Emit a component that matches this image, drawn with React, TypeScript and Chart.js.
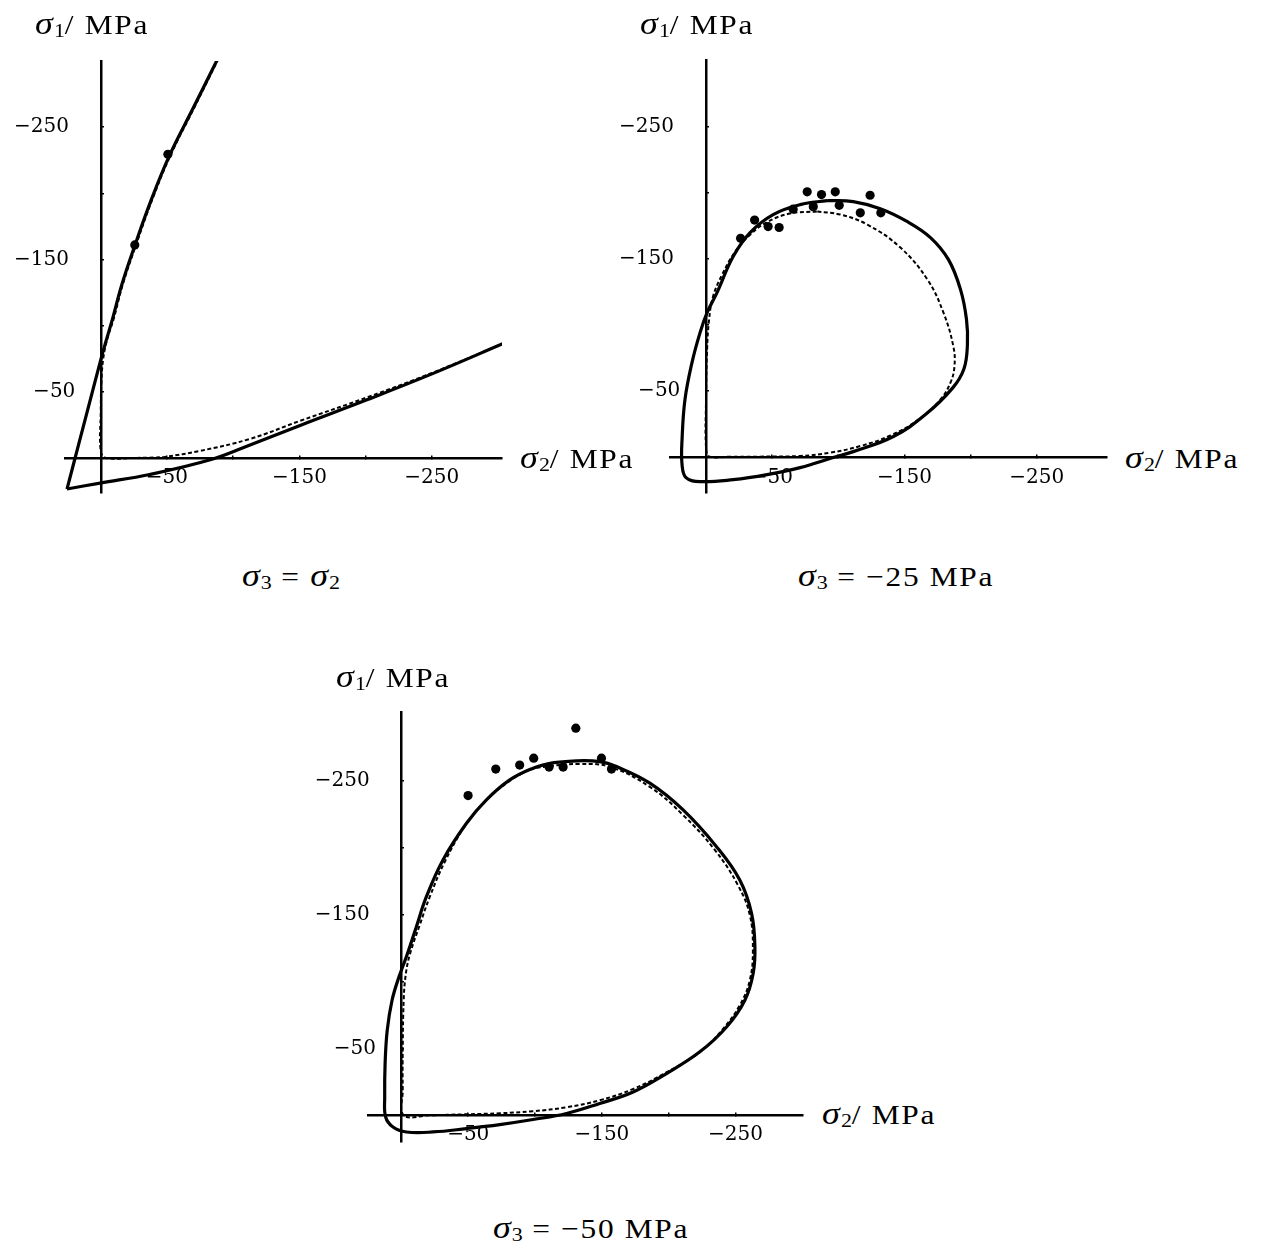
import React, { useEffect, useRef } from 'react';
import { Chart, registerables } from 'chart.js';

Chart.register(...registerables);

type Pt = [number, number];

// ---------- tick values (MPa) ----------
const TICK_VALUES = [-250, -200, -150, -100, -50];
const LABELED_TICKS = [-250, -150, -50];

// ---------- panel 1 : sigma3 = sigma2 ----------
const P1_X_RANGE: Pt = [-303, 27];
const P1_Y_RANGE: Pt = [-300, 26.5];
const P1_SOLID_UPPER: Pt[] = [
  [-88.5, -302], [-70, -264.8], [-52.2, -229.2], [-38.2, -195.2], [-25.7, -160.4],
  [-15.9, -130.9], [-9.1, -105.9], [-3.8, -87.7], [0, -74.1], [8.3, -42.4],
  [16.6, -10.6], [25.5, 23.5],
];
const P1_SOLID_LOWER: Pt[] = [
  [25.5, 23.5], [0.5, 19], [-37, 12.5], [-84.7, 0.8], [-112.7, -9.8], [-150.5, -24.6],
  [-202, -44.3], [-252, -64.3], [-304, -86.5],
];
const P1_DASHED: Pt[] = [
  [-89, -302], [-70.5, -264.5], [-52.8, -229], [-38.8, -195], [-26.3, -160], [-16.6, -131],
  [-10, -106], [-5, -90], [-2, -76], [-0.5, -58], [0, -35], [0, -5], [-4, 0],
  [-25, 0], [-40, -0.3], [-48.4, -0.8], [-74.9, -5.3], [-112.7, -14.4], [-150.5, -28],
  [-202, -46.1], [-252, -65], [-304, -86.5],
];
const P1_POINTS: Pt[] = [[-50.7, -229.5], [-25.7, -161]];

// ---------- panel 2 : sigma3 = -25 MPa ----------
const P2_X_RANGE: Pt = [-303, 27];
const P2_Y_RANGE: Pt = [-300.5, 27];
const P2_SOLID: Pt[] = [
  [-91.8, -194.2], [-111.4, -193.4], [-131.8, -188], [-152.3, -178.2], [-169.7, -166.2],
  [-183.3, -149.5], [-192.4, -126.8], [-196.9, -104.2], [-197.6, -85.3], [-195, -67],
  [-186.5, -52.5], [-165.9, -32.3], [-141.7, -15.7], [-111.4, -4.3], [-96.3, 0.2],
  [-71.3, 7.8], [-46.3, 13.1], [-20.7, 16.9], [4.3, 18.4], [14.9, 15.4], [17.9, 5.5],
  [17.9, -13.4], [15.7, -43.6], [10.4, -71.6], [4.3, -94.3], [-1, -109.4], [-8.5, -124.6],
  [-20.7, -151.9], [-33.5, -170], [-50.9, -183.6], [-71.3, -191.1], [-91.8, -194.2],
];
const P2_DASHED: Pt[] = [
  [-84.2, -185.9], [-101.6, -183.6], [-122, -176], [-147, -158.6], [-167.4, -134.4],
  [-179.5, -109.4], [-187, -83.7], [-187.8, -68.6], [-184.8, -56.5], [-177.2, -43.7],
  [-160.6, -28.5], [-139.5, -16.5], [-116.7, -8.5], [-94, -3.5], [-71.3, -1],
  [-41, -0.5], [-18.4, -0.5], [-3, -0.5], [-0.3, -5.8], [-0.2, -43.7], [-1, -81.5],
  [-2.5, -104], [-5.5, -121.6], [-12.3, -138], [-22.2, -155.5], [-33.5, -168.4],
  [-46.4, -178], [-63.8, -184.4], [-84.2, -185.9],
];
const P2_POINTS: Pt[] = [
  [-26.3, -165.6], [-36.9, -179.4], [-47.1, -174.5], [-55.4, -173.8], [-66, -187.7],
  [-76.6, -200.8], [-87.4, -198.7], [-97.8, -200.8], [-100.8, -190.6], [-81.2, -189.6],
  [-116.7, -184.9], [-124.1, -198.2], [-132.2, -184.9],
];

// ---------- panel 3 : sigma3 = -50 MPa ----------
const P3_X_RANGE: Pt = [-300.5, 25];
const P3_Y_RANGE: Pt = [-301.5, 20];
const P3_SOLID: Pt[] = [
  [-111, -263.2], [-131, -265], [-148.4, -264.4], [-160.9, -260.7], [-185.9, -248.3],
  [-210.8, -228.3], [-235.8, -200.8], [-253.2, -175.9], [-262, -151], [-264.5, -126],
  [-263.2, -106], [-257, -86], [-243.3, -66], [-223.3, -47.4], [-198.4, -31.2],
  [-173.4, -17.4], [-148.4, -8.8], [-123.5, -1.3], [-98.5, 3.2], [-73.6, 7], [-48.7, 10],
  [-23.7, 12.5], [-3.7, 12.5], [6.3, 8.8], [11.8, 1.3], [12.5, -13.7], [12.2, -38.7],
  [10.6, -63.6], [7, -86], [1.8, -103.5], [-3.7, -118.5], [-11.2, -141], [-18.7, -163.4],
  [-31.1, -190.9], [-48.7, -218.3], [-63.6, -235.8], [-81.1, -250.7], [-98.5, -259.5],
  [-111, -263.2],
];
const P3_DASHED: Pt[] = [
  [-111, -261.2], [-133.5, -262.7], [-156, -260.5], [-185.9, -245.5], [-210.6, -224.6],
  [-234.5, -198.4], [-251.7, -172.2], [-260.7, -149.7], [-263, -123.5], [-260.7, -101],
  [-253.2, -82.3], [-239.8, -63.6], [-223.3, -47.2], [-198.6, -32.2], [-173.1, -19.5],
  [-148.4, -11.2], [-123.7, -6], [-98.3, -3], [-73.6, -1.5], [-47.4, -0.7], [-21.2, 0],
  [-1.7, 0], [-1, -18.7], [-1, -48.7], [-1.7, -86], [-3.2, -104.8], [-6.2, -119.8],
  [-13.7, -142.2], [-21.2, -163.2], [-32.4, -189.4], [-48.1, -217.1], [-63.1, -235],
  [-81.1, -250], [-96, -258.2], [-111, -261.2],
];
const P3_POINTS: Pt[] = [
  [-49.9, -239], [-70.6, -258.8], [-88.5, -261.8], [-99, -267], [-110.5, -260.3],
  [-121, -260.3], [-130.5, -289.4], [-149.7, -267], [-157.2, -258.8],
];

// ---------- chart construction ----------
type PanelDef = {
  left: number; top: number; width: number; height: number;
  padding: { left: number; top: number; right: number; bottom: number };
  xRange: Pt; yRange: Pt;
  solid: Pt[][]; dashed: Pt[][]; points: Pt[];
};

const toXY = (arr: Pt[]) => arr.map(([x, y]) => ({ x, y }));
const TICK_FONT = { family: "'DejaVu Serif', serif", size: 20 };

function tickLabel(v: number, trailing: boolean): string {
  if (!LABELED_TICKS.includes(v)) return '';
  const s = '\u2212' + Math.abs(v);
  if (!trailing) return s;
  return s + (Math.abs(v) < 100 ? '    ' : '     ');
}

function buildConfig(p: PanelDef): any {
  const datasets: any[] = [];
  p.solid.forEach((arr) =>
    datasets.push({
      data: toXY(arr), showLine: true, borderColor: '#000', borderWidth: 3.2,
      pointRadius: 0, tension: 0.4, fill: false,
    })
  );
  p.dashed.forEach((arr) =>
    datasets.push({
      data: toXY(arr), showLine: true, borderColor: '#000', borderWidth: 2,
      borderDash: [4, 2.5], pointRadius: 0, tension: 0.4, fill: false,
    })
  );
  datasets.push({
    data: toXY(p.points), showLine: false, pointRadius: 4.6,
    pointBackgroundColor: '#000', pointBorderWidth: 0, pointBorderColor: '#000',
  });
  const grid = { drawOnChartArea: false, drawTicks: true, tickLength: -4, color: '#000', lineWidth: 1.5 };
  const border = { display: true, color: '#000', width: 2.5 };
  return {
    type: 'scatter',
    data: { datasets },
    options: {
      animation: false,
      responsive: false,
      maintainAspectRatio: false,
      events: [],
      layout: { padding: p.padding },
      plugins: { legend: { display: false }, tooltip: { enabled: false }, title: { display: false } },
      scales: {
        x: {
          type: 'linear', min: p.xRange[0], max: p.xRange[1], reverse: true,
          position: { y: 0 },
          afterBuildTicks: (s: any) => { s.ticks = TICK_VALUES.map((v) => ({ value: v })); },
          afterFit: (s: any) => { s.height = 0; },
          grid, border,
          ticks: {
            callback: (v: any) => tickLabel(Number(v), false),
            font: TICK_FONT, color: '#000', padding: 12, autoSkip: false, maxRotation: 0, minRotation: 0,
          },
        },
        y: {
          type: 'linear', min: p.yRange[0], max: p.yRange[1], reverse: true,
          position: { x: 0 },
          afterBuildTicks: (s: any) => { s.ticks = TICK_VALUES.map((v) => ({ value: v })); },
          afterFit: (s: any) => { s.width = 0; },
          grid, border,
          ticks: {
            callback: (v: any) => tickLabel(Number(v), true),
            font: TICK_FONT, color: '#000', padding: 0, autoSkip: false,
          },
        },
      },
    },
  };
}

const PANELS: PanelDef[] = [
  {
    left: 0, top: 40, width: 520, height: 480,
    padding: { left: 65, top: 21, right: 18, bottom: 27 },
    xRange: P1_X_RANGE, yRange: P1_Y_RANGE,
    solid: [P1_SOLID_UPPER, P1_SOLID_LOWER], dashed: [P1_DASHED], points: P1_POINTS,
  },
  {
    left: 600, top: 40, width: 520, height: 480,
    padding: { left: 70, top: 20, right: 13, bottom: 27 },
    xRange: P2_X_RANGE, yRange: P2_Y_RANGE,
    solid: [P2_SOLID], dashed: [P2_DASHED], points: P2_POINTS,
  },
  {
    left: 300, top: 690, width: 520, height: 480,
    padding: { left: 68, top: 22, right: 17, bottom: 28 },
    xRange: P3_X_RANGE, yRange: P3_Y_RANGE,
    solid: [P3_SOLID], dashed: [P3_DASHED], points: P3_POINTS,
  },
];

function Panel({ def }: { def: PanelDef }) {
  const ref = useRef<HTMLCanvasElement | null>(null);
  useEffect(() => {
    if (!ref.current) return;
    const chart = new Chart(ref.current, buildConfig(def));
    return () => chart.destroy();
  }, [def]);
  return (
    <div style={{ position: 'absolute', left: def.left, top: def.top, width: def.width, height: def.height }}>
      <canvas ref={ref} width={def.width} height={def.height} style={{ width: def.width, height: def.height, display: 'block' }} />
    </div>
  );
}

// ---------- text labels ----------
const TXT: React.CSSProperties = {
  position: 'absolute',
  fontFamily: "'Liberation Serif', 'Times New Roman', serif",
  fontWeight: 400,
  fontSize: 28,
  lineHeight: '28px',
  letterSpacing: '1.5px',
  whiteSpace: 'nowrap',
  color: '#000',
  transformOrigin: 'left top',
};

function Txt({ x, base, center, children }: { x: number; base: number; center?: boolean; children: React.ReactNode }) {
  return (
    <div style={{ ...TXT, left: x, top: base - 23.5, transform: center ? 'scaleX(1.12) translateX(-50%)' : 'scaleX(1.12)' }}>
      {children}
    </div>
  );
}

function Sig({ n }: { n: string }) {
  return (
    <span>
      <i style={{ fontSize: '1.15em', lineHeight: 0, letterSpacing: '1px' }}>σ</i>
      <span style={{ fontSize: '0.7em', verticalAlign: '-0.14em', lineHeight: 0, letterSpacing: 0 }}>{n}</span>
    </span>
  );
}

export default function App() {
  return (
    <div style={{ position: 'absolute', left: 0, top: 0, width: 1269, height: 1250, background: '#fff', overflow: 'hidden' }}>
      {PANELS.map((d, i) => (
        <Panel key={i} def={d} />
      ))}
      <Txt x={35} base={34}><Sig n="1" />/ MPa</Txt>
      <Txt x={640} base={34}><Sig n="1" />/ MPa</Txt>
      <Txt x={336} base={687}><Sig n="1" />/ MPa</Txt>
      <Txt x={520} base={468}><Sig n="2" />/ MPa</Txt>
      <Txt x={1125} base={468}><Sig n="2" />/ MPa</Txt>
      <Txt x={822} base={1124}><Sig n="2" />/ MPa</Txt>
      <Txt x={291} base={586} center><Sig n="3" /> = <Sig n="2" /></Txt>
      <Txt x={896} base={586} center><Sig n="3" /> = −25 MPa</Txt>
      <Txt x={591} base={1238} center><Sig n="3" /> = −50 MPa</Txt>
    </div>
  );
}
